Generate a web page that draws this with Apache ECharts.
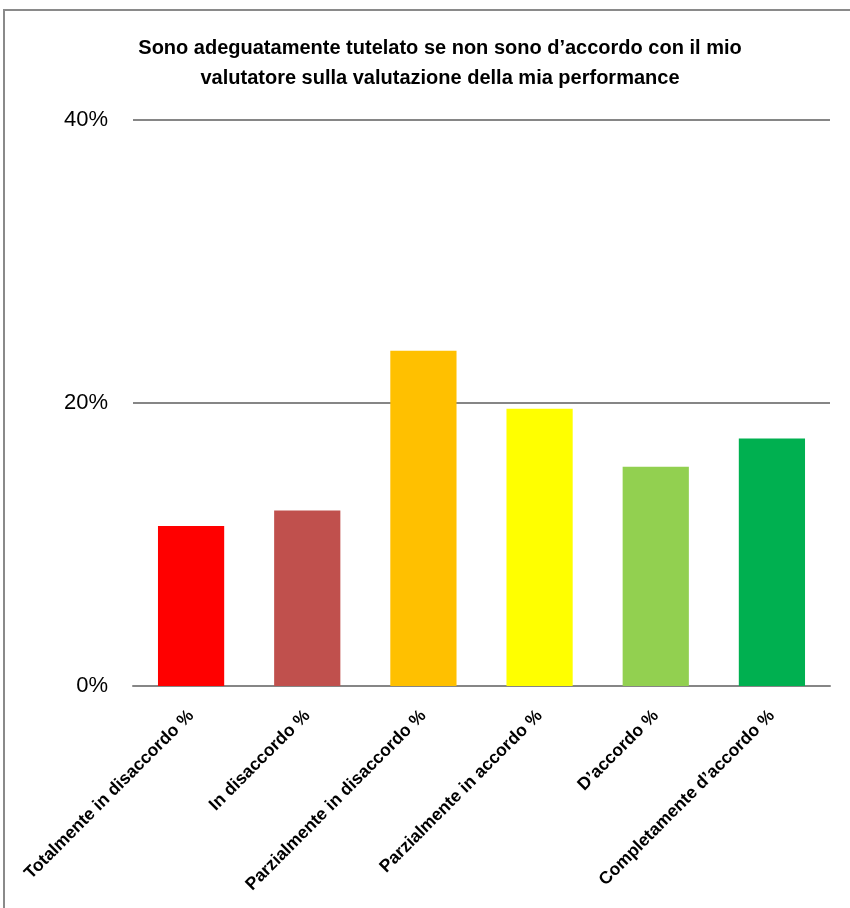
<!DOCTYPE html>
<html>
<head>
<meta charset="utf-8">
<script src="https://cdn.jsdelivr.net/npm/echarts@6/dist/echarts.min.js"></script>
<style>
html,body{margin:0;padding:0;background:#fff;}
#chart{width:850px;height:908px;}
</style>
</head>
<body>
<div id="chart"></div>
<script>
var titleText = 'Sono adeguatamente tutelato se non sono d\u2019accordo con il mio\nvalutatore sulla valutazione della mia performance';
var categories = ['Totalmente in disaccordo %', 'In disaccordo %', 'Parzialmente in disaccordo %', 'Parzialmente in accordo %', 'D\u2019accordo %', 'Completamente d\u2019accordo %'];
var values = [11.3, 12.4, 23.7, 19.6, 15.5, 17.5];
var barColors = ['#FF0000', '#C0504D', '#FFC000', '#FFFF00', '#92D050', '#00B050'];
var yTicks = [0, 20, 40];

var chart = echarts.init(document.getElementById('chart'), null, {renderer: 'canvas'});
chart.setOption({
  backgroundColor: '#ffffff',
  animation: false,
  title: {
    text: titleText,
    left: 435,
    top: 28,
    textAlign: 'center',
    textStyle: {
      fontFamily: 'Liberation Sans',
      fontWeight: 'bold',
      fontSize: 20,
      lineHeight: 30,
      color: '#000'
    }
  },
  graphic: [{
    type: 'rect',
    shape: {x: 4, y: 10, width: 900, height: 1000},
    style: {fill: 'none', stroke: '#8a8a8a', lineWidth: 2},
    silent: true
  }],
  grid: {left: 133, right: 20, top: 120, bottom: 222},
  xAxis: {
    type: 'category',
    data: categories,
    axisLine: {show: true, lineStyle: {color: '#868686', width: 2}},
    axisTick: {show: false},
    axisLabel: {
      interval: 0,
      rotate: 45,
      margin: 27,
      fontFamily: 'Liberation Sans',
      fontWeight: 'bold',
      fontSize: 17.5,
      color: '#000'
    }
  },
  yAxis: {
    type: 'value',
    min: yTicks[0],
    max: yTicks[yTicks.length - 1],
    interval: yTicks[1] - yTicks[0],
    axisLine: {show: false},
    axisTick: {show: false},
    splitLine: {show: true, lineStyle: {color: '#868686', width: 2}},
    axisLabel: {
      formatter: '{value}%',
      margin: 25,
      fontFamily: 'Liberation Sans',
      fontSize: 22,
      color: '#000'
    }
  },
  series: [{
    type: 'bar',
    data: values.map(function (v, i) { return {value: v, itemStyle: {color: barColors[i]}}; }),
    barCategoryGap: '43%'
  }]
});
</script>
</body>
</html>
